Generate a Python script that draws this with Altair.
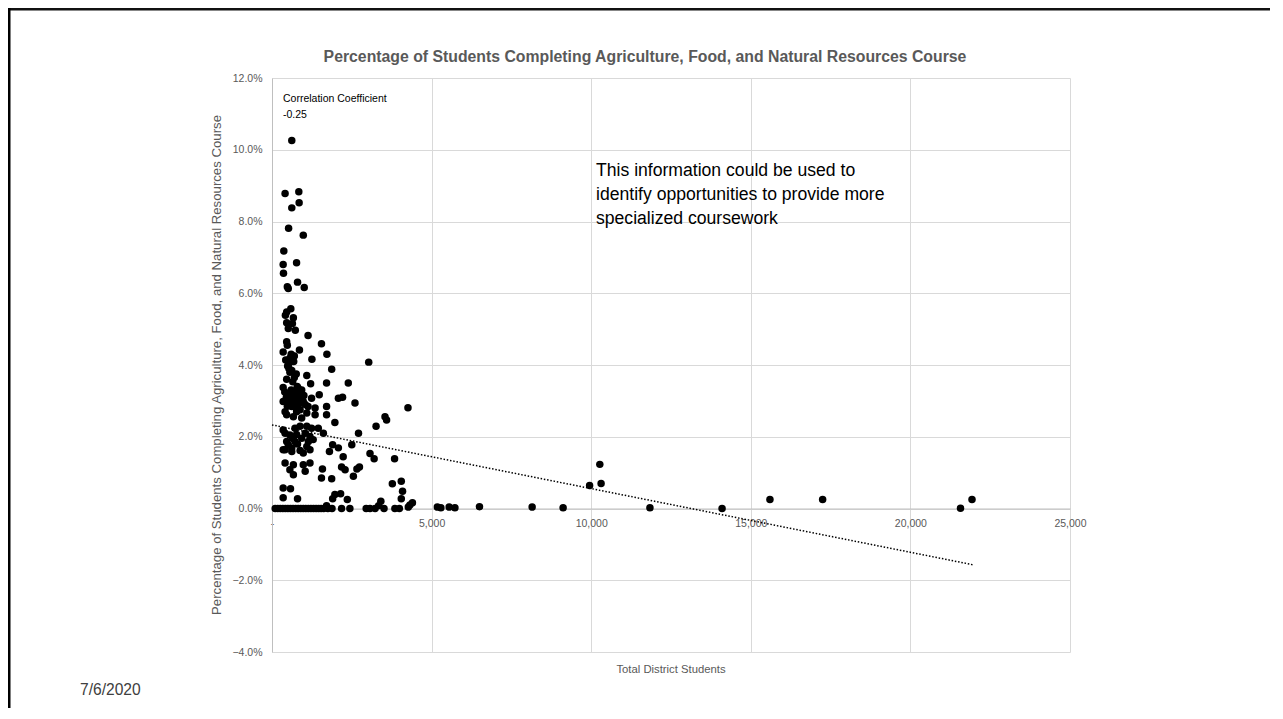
import altair as alt
import pandas as pd

FONT = "Liberation Sans"

# District size (students) and % completing the course (percent)
students = [
    620, 410, 840, 850, 620, 520, 980, 370, 770, 350, 360, 800, 480, 510, 1010,
    590, 460, 420, 670, 460, 640, 510, 730, 1130, 460, 480, 1550, 860, 350, 1720,
    700, 600, 560, 430, 1250, 680, 530, 3030, 490, 530, 1870, 620, 560, 760, 1090,
    700, 460, 650, 1210, 1710, 2390, 350, 790, 820,
    770, 600, 930, 400, 680, 560, 880, 1480, 1000, 740, 450, 620, 2210, 1240, 2080,
    510, 720, 800, 900, 350, 980, 640, 860, 2600, 820, 560, 700, 1040, 480, 620,
    1130, 1710, 4260, 1350, 760, 880, 410, 770, 1090, 460, 1350, 1710, 670, 3540,
    930, 3590, 1970,
    880, 1090, 3260, 720, 1240, 1450, 350, 410, 1040, 1610, 2710, 770, 560, 1190,
    930, 650, 1290, 460, 720, 1140, 800, 510, 1900, 2500, 1090, 620, 2080, 410, 350,
    1190, 880, 620, 1800, 980, 3070, 2230, 3200, 3840,
    410, 1190, 670, 980, 2180, 2740, 2660, 1580, 560, 2290, 1040, 670, 2550, 1550,
    1870, 4050, 3770, 350, 580, 4090, 2150, 1970, 350, 800, 1900, 4050, 2360, 3410,
    4400, 4320, 3340, 1710, 4270,
    5180, 5290, 5550, 5730, 6500, 8150, 9120, 9950, 10310, 10270, 11840, 14100,
    15600, 17250, 21570, 21930,
    100, 180, 260, 340, 420, 500, 580, 660, 740, 820, 900, 980, 1060, 1140, 1220,
    1300, 1380, 1460, 1540, 1620, 1750, 1880, 2180, 2440, 2950, 3070, 3230, 3510,
    3850, 3990,
]
pct = [
    10.26, 8.78, 8.83, 8.52, 8.38, 7.81, 7.62, 7.18, 6.85, 6.80, 6.56, 6.31, 6.18, 6.13, 6.16,
    5.57, 5.48, 5.39, 5.32, 5.18, 5.16, 5.02, 4.97, 4.82, 4.65, 4.55, 4.59, 4.42, 4.36, 4.30,
    4.25, 4.30, 4.19, 4.14, 4.16, 4.10, 4.05, 4.08, 3.97, 3.90, 3.88, 3.85, 3.80, 3.75, 3.71,
    3.65, 3.60, 3.53, 3.48, 3.50, 3.50, 3.37, 3.40, 3.35,
    3.26, 3.30, 3.30, 3.25, 3.25, 3.20, 3.17, 3.17, 3.15, 3.12, 3.10, 3.10, 3.10, 3.07, 3.07,
    3.03, 3.03, 3.05, 3.05, 2.98, 2.98, 2.95, 2.95, 2.94, 2.89, 2.90, 2.90, 2.90, 2.85, 2.84,
    2.84, 2.84, 2.81, 2.80, 2.80, 2.75, 2.70, 2.70, 2.66, 2.61, 2.61, 2.61, 2.56, 2.56,
    2.52, 2.47, 2.40,
    2.29, 2.29, 2.29, 2.24, 2.24, 2.24, 2.19, 2.10, 2.10, 2.10, 2.10, 2.06, 2.05, 2.01,
    1.96, 1.95, 1.92, 1.87, 1.87, 1.87, 1.80, 1.78, 1.78, 1.78, 1.73, 1.69, 1.69, 1.64, 1.64,
    1.64, 1.62, 1.59, 1.59, 1.55, 1.53, 1.44, 1.39, 1.39,
    1.27, 1.27, 1.22, 1.22, 1.16, 1.16, 1.10, 1.10, 1.08, 1.08, 1.04, 0.94, 0.90, 0.85,
    0.83, 0.76, 0.69, 0.57, 0.55, 0.48, 0.41, 0.39, 0.30, 0.27, 0.27, 0.27, 0.25, 0.20,
    0.16, 0.10, 0.08, 0.08, 0.04,
    0.04, 0.02, 0.04, 0.02, 0.05, 0.04, 0.02, 0.64, 0.70, 1.23, 0.02, 0.00,
    0.25, 0.25, 0.01, 0.25,
    0, 0, 0, 0, 0, 0, 0, 0, 0, 0, 0, 0, 0, 0, 0,
    0, 0, 0, 0, 0, 0, 0, 0, 0, 0, 0, 0, 0,
    0, 0,
]

# Linear trendline end points
trend_students = [0, 21970]
trend_pct = [2.33, -1.57]

x_ticks = [0, 5000, 10000, 15000, 20000, 25000]
y_ticks = [-4, -2, 0, 2, 4, 6, 8, 10, 12]

title_text = "Percentage of Students Completing Agriculture, Food, and Natural Resources Course"
y_title_text = "Percentage of Students Completing Agriculture, Food, and Natural Resources Course"
x_title_text = "Total District Students"
corr_lines = ["Correlation Coefficient", "-0.25"]
note_lines = [
    "This information could be used to",
    "identify opportunities to provide more",
    "specialized coursework",
]
date_text = "7/6/2020"

pts = pd.DataFrame({"students": students, "pct": pct})
trend = pd.DataFrame({"students": trend_students, "pct": trend_pct})
one = pd.DataFrame({"k": [0]})

x_scale = alt.Scale(domain=[0, 25000], nice=False, zero=False)
y_scale = alt.Scale(domain=[-4, 12], nice=False, zero=False)

x_axis = alt.Axis(
    values=x_ticks,
    labelExpr="datum.value == 0 ? '-' : format(datum.value, ',')",
    offset=-143.5,
    title=None,
    ticks=False,
    grid=True,
    gridColor="#d9d9d9",
    domainColor="#bfbfbf",
    labelColor="#595959",
    labelFont=FONT,
    labelFontSize=10.5,
    labelPadding=10,
    labelFlush=False,
)
y_axis = alt.Axis(
    values=y_ticks,
    labelExpr="format(datum.value, '.1f') + '%'",
    title=None,
    ticks=False,
    grid=True,
    gridColor="#d9d9d9",
    domainColor="#bfbfbf",
    labelColor="#595959",
    labelFont=FONT,
    labelFontSize=10.5,
    labelPadding=10,
)

X = alt.X("students:Q", scale=x_scale, axis=x_axis)
Y = alt.Y("pct:Q", scale=y_scale, axis=y_axis)

points = alt.Chart(pts).mark_point(
    filled=True, shape="circle", size=56, color="black", opacity=1
).encode(x=X, y=Y)

trendline = alt.Chart(trend).mark_line(
    color="black", strokeWidth=1.5, strokeDash=[1.5, 1.8]
).encode(x=X, y=Y)


def label(text, x, y, size, color="black", weight="normal", align="left", angle=0):
    return alt.Chart(one).mark_text(
        font=FONT, fontSize=size, color=color, fontWeight=weight,
        align=align, baseline="middle", angle=angle,
    ).encode(x=alt.value(x), y=alt.value(y), text=alt.value(text))


texts = [
    label(title_text, 373, -21, 15.8, "#595959", "bold", "center"),
    label(corr_lines[0], 11, 21, 10.5),
    label(corr_lines[1], 11, 37, 10.5),
    label(note_lines[0], 324, 93, 17.6),
    label(note_lines[1], 324, 117, 17.6),
    label(note_lines[2], 324, 141, 17.6),
    label(x_title_text, 399, 592, 11.3, "#595959", "normal", "center"),
    label(y_title_text, -55, 287, 13.2, "#595959", "normal", "center", 270),
    label(date_text, -192, 612, 15.6, "#404040"),
]

border_top = alt.Chart(one).mark_rule(color="#111111", strokeWidth=2.5).encode(
    x=alt.value(-264), x2=alt.value(998), y=alt.value(-68.75)
)
border_left = alt.Chart(one).mark_rule(color="black", strokeWidth=2.5).encode(
    x=alt.value(-262.75), y=alt.value(-70), y2=alt.value(630)
)

chart = alt.layer(points, trendline, *texts, border_top, border_left).properties(
    width=798,
    height=574,
    autosize=alt.AutoSizeParams(type="none"),
    padding={"left": 264, "top": 70, "right": 200, "bottom": 56},
    background="white",
).configure_view(stroke=None)

chart.save("out.html", embed_options={"renderer": "svg", "actions": False})
